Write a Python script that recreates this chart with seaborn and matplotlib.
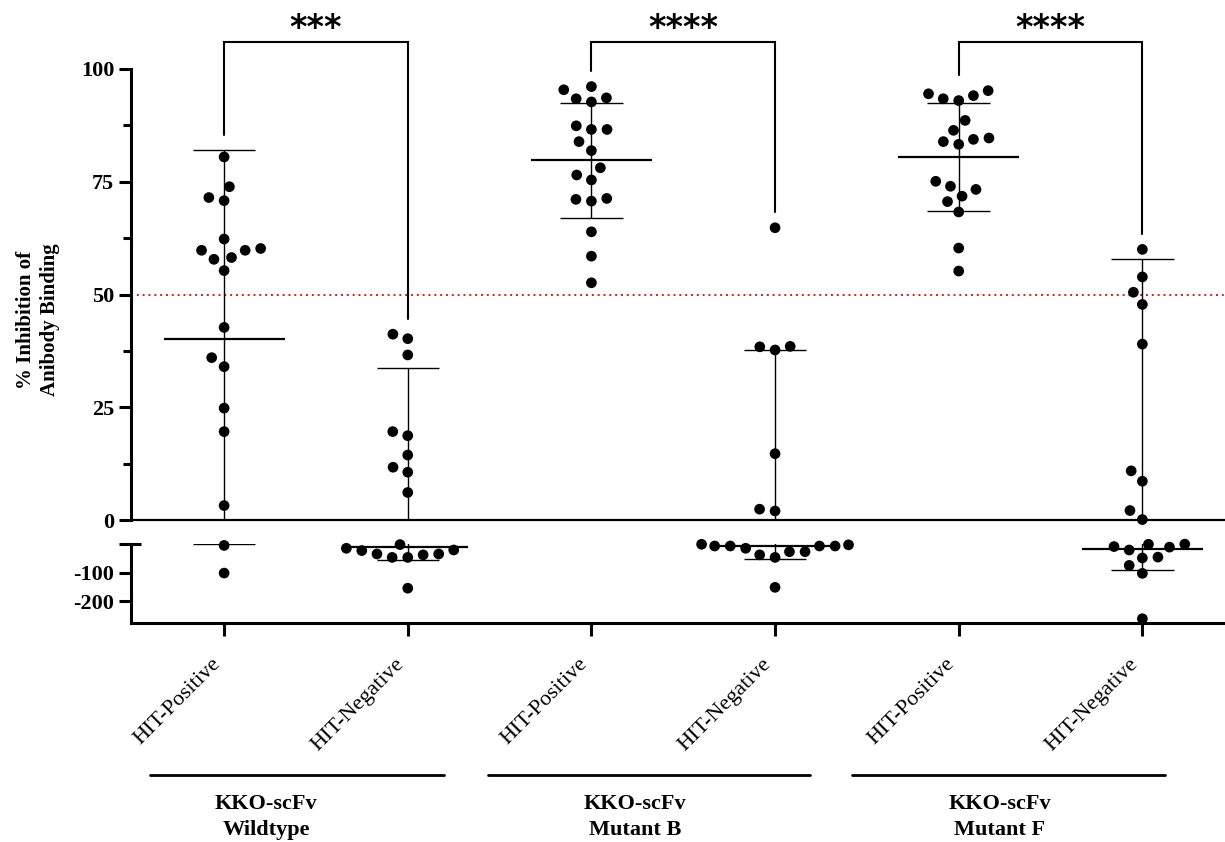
import numpy as np
import pandas as pd
import matplotlib
matplotlib.use("Agg")
import matplotlib.pyplot as plt
from matplotlib.lines import Line2D
import seaborn as sns

# ---------------- data ----------------
categories = ["WT HIT-Positive", "WT HIT-Negative",
              "MutB HIT-Positive", "MutB HIT-Negative",
              "MutF HIT-Positive", "MutF HIT-Negative"]
tick_labels = ["HIT-Positive", "HIT-Negative"] * 3
group_titles = ["KKO-scFv\nWildtype", "KKO-scFv\nMutant B", "KKO-scFv\nMutant F"]
significance = ["***", "****", "****"]

wt_pos = [80.5, 73.9, 70.8, 71.5, 62.3, 59.8, 59.8, 60.2, 57.8, 58.2, 55.3,
          42.7, 36.0, 34.0, 24.8, 19.6, 3.2, -5, -102]
wt_neg = [40.2, 41.2, 36.6, 18.7, 19.6, 14.4, 10.6, 11.7, 6.1,
          -38, -21, -35, -15, -47, -47, -2, -35, -23, -155]
mb_pos = [95.4, 96.1, 93.6, 92.7, 93.4, 86.6, 86.6, 87.4, 83.9, 81.9, 78.1,
          76.5, 75.4, 71.1, 70.7, 71.3, 63.9, 58.5, 52.6]
mb_neg = [64.8, 38.4, 38.5, 37.7, 14.7, 2.0, 2.4,
          -7, -7, -27, -15, -7, -47, -27, -3, -38, -7, -1, -152]
mf_pos = [94.5, 93.4, 95.2, 93.0, 94.1, 88.6, 86.4, 83.3, 83.9, 84.4, 84.7,
          75.1, 74.0, 73.3, 71.8, 70.6, 68.3, 60.3, 55.2]
mf_neg = [60.0, 53.9, 50.5, 47.8, 39.0, 10.9, 8.6, 2.1, 0.1,
          -1, -9, -11, -21, -0.5, -46, -49, -75, -103, -262]
values = [wt_pos, wt_neg, mb_pos, mb_neg, mf_pos, mf_neg]

threshold = 50
upper_ticks = [0, 25, 50, 75, 100]
upper_minor = [12.5, 37.5, 62.5, 87.5]
lower_ticks = [-200, -100, 0]
lower_tick_labels = ["-200", "-100", ""]

# ---------------- styling ----------------
sns.set_style("ticks")
plt.rcParams["font.family"] = ["Liberation Serif", "DejaVu Serif"]
for key in ["text.color", "axes.labelcolor", "xtick.color", "ytick.color", "axes.edgecolor"]:
    plt.rcParams[key] = "black"

W, H = 1225, 842
fig = plt.figure(figsize=(W / 100, H / 100), dpi=100)


def fx(px):
    return px / W


def fy(py):
    return 1 - py / H


ax_top = fig.add_axes([fx(131), fy(520), fx(1225) - fx(131), fy(69) - fy(520)])
ax_bot = fig.add_axes([fx(131), fy(623), fx(1225) - fx(131), fy(544) - fy(623)])

df = pd.DataFrame({
    "group": np.repeat(categories, [len(v) for v in values]),
    "value": np.concatenate([np.asarray(v, float) for v in values]),
})

for ax, part in [(ax_top, df[df["value"] >= 0]), (ax_bot, df[df["value"] < 0])]:
    sns.swarmplot(data=part, x="group", y="value", order=categories,
                  color="black", size=7.7, linewidth=3.0, ax=ax, zorder=4)
    for c in ax.collections:
        c.set_edgecolor("none")
        if len(c.get_offsets()) > 0:
            c.set_clip_on(False)

stats = df.groupby("group")["value"].agg(["mean", "std", "max"]).reindex(categories)

for ax in (ax_top, ax_bot):
    for i, (m, s) in enumerate(zip(stats["mean"], stats["std"])):
        ax.hlines(m, i - 0.33, i + 0.33, color="black", lw=1.6, zorder=2)
        ax.hlines([m - s, m + s], i - 0.17, i + 0.17, color="black", lw=1.0, zorder=2)
        ax.vlines(i, m - s, m + s, color="black", lw=1.0, zorder=2)
    ax.set_xlim(-0.507, 5.45)
    ax.set_xlabel("")
    ax.set_ylabel("")
    ax.spines["top"].set_visible(False)
    ax.spines["right"].set_visible(False)
    ax.spines["left"].set_linewidth(2.2)

# upper segment
ax_top.set_ylim(0, 100)
ax_top.set_yticks(upper_ticks)
ax_top.set_yticklabels([str(t) for t in upper_ticks], fontsize=16, fontweight="bold")
ax_top.set_yticks(upper_minor, minor=True)
ax_top.tick_params(axis="y", which="major", length=9, width=2.2, pad=3)
ax_top.tick_params(axis="y", which="minor", length=5.5, width=2.2)
ax_top.tick_params(axis="x", bottom=False, labelbottom=False)
ax_top.spines["bottom"].set_linewidth(1.6)
ax_top.axhline(threshold, color="#d02020", lw=1.4, linestyle=(0, (1, 2.0)), zorder=1)

# lower segment
ax_bot.set_ylim(-277, 0)
ax_bot.set_yticks(lower_ticks)
ax_bot.set_yticklabels(lower_tick_labels, fontsize=16, fontweight="bold")
ax_bot.tick_params(axis="y", which="major", length=9, width=2.2, pad=3)
ax_bot.spines["bottom"].set_linewidth(2.2)
ax_bot.set_xticks(range(len(categories)))
ax_bot.set_xticklabels(tick_labels, rotation=45, ha="right", fontsize=16)
ax_bot.tick_params(axis="x", length=9, width=2.2, pad=14)
ax_bot.plot([0, 0.009], [1, 1], transform=ax_bot.transAxes, color="black",
            lw=2.2, clip_on=False, solid_capstyle="butt")

# significance brackets
top_y = 106
for k in range(3):
    a, b = 2 * k, 2 * k + 1
    legs = []
    for i in (a, b):
        m, s, mx = stats.iloc[i][["mean", "std", "max"]]
        legs.append(max(mx, m + s) + 3.4)
    ax_top.plot([a, a, b, b], [legs[0], top_y, top_y, legs[1]], color="black",
                lw=1.5, clip_on=False, solid_joinstyle="miter")
    ax_top.text((a + b) / 2, 106.9, significance[k], ha="center", va="baseline",
                fontsize=24, fontweight="bold", family="DejaVu Sans", clip_on=False)

# y label
fig.text(fx(38), fy(320), "% Inhibition of\nAnibody Binding", rotation=90,
         ha="center", va="center", fontsize=15, fontweight="bold", linespacing=1.25)

# group lines and titles
group_lines = [(150, 444), (488, 810), (852, 1165)]
group_centers = [266, 635, 1000]
for (x0, x1), cx, title in zip(group_lines, group_centers, group_titles):
    fig.add_artist(Line2D([fx(x0), fx(x1)], [fy(775), fy(775)], color="black", lw=2.0))
    fig.text(fx(cx), fy(817), title, ha="center", va="center", fontsize=16,
             fontweight="bold", linespacing=1.35)

fig.savefig("out.png", dpi=100)
